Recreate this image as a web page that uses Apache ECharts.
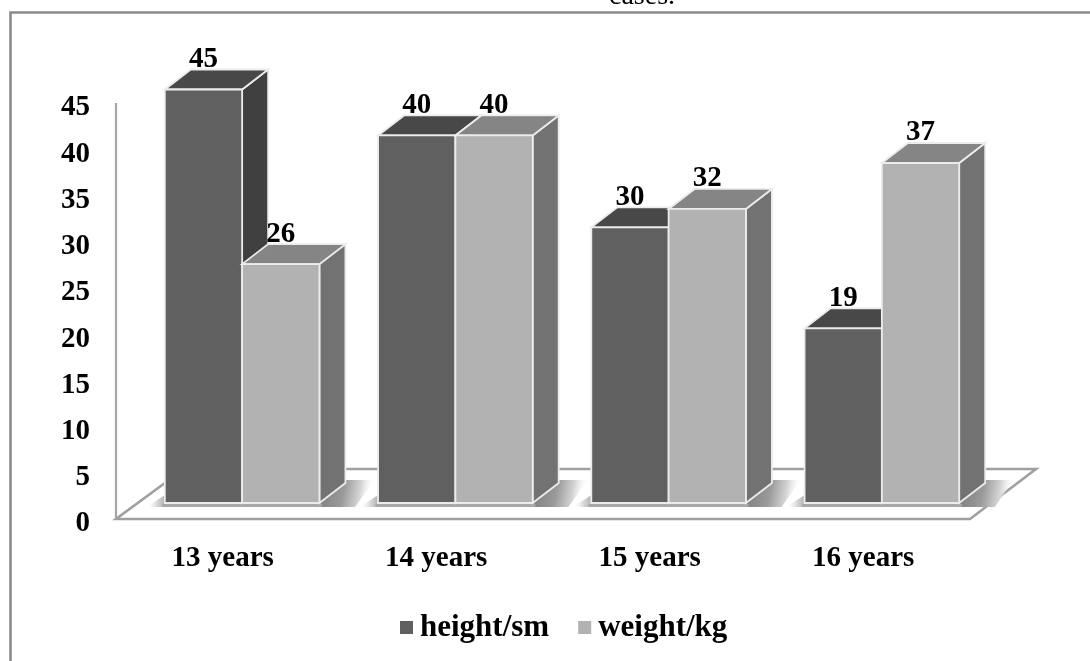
<!DOCTYPE html>
<html>
<head>
<meta charset="utf-8">
<style>html,body{margin:0;padding:0;background:#fff;overflow:hidden}#c{width:1090px;height:661px}</style>
<script src="https://cdn.jsdelivr.net/npm/echarts@6/dist/echarts.min.js"></script>
</head>
<body>
<div id="c"></div>
<script>
const categories = ['13 years', '14 years', '15 years', '16 years'];
const heightValues = [45, 40, 30, 19];
const weightValues = [26, 40, 32, 37];
const seriesNames = ['height/sm', 'weight/kg'];

const FONT = '"Liberation Serif", "Times New Roman", serif';
const DEPTH_X = 26, DEPTH_Y = 20;
const LABEL_DROP = 5;
const darkFaces = { front: '#606060', top: '#484848', side: '#404040' };
const lightFaces = { front: '#b2b2b2', top: '#858585', side: '#727272' };

function poly(points, fill, stroke, width) {
  return { type: 'polygon', shape: { points: points },
    style: { fill: fill, stroke: stroke || null, lineWidth: stroke ? (width || 1.8) : 0, lineJoin: 'miter' } };
}

function barRenderer(faces, seriesIndex) {
  return function (params, api) {
    const band = api.size([1, 0])[0];
    const w = band * 0.3625;
    const top = api.coord([api.value(0), api.value(1)]);
    const base = api.coord([api.value(0), 0]);
    const x0 = seriesIndex === 0 ? top[0] - w : top[0];
    const x1 = x0 + w, yt = top[1], yb = base[1];
    const dx = DEPTH_X, dy = DEPTH_Y, line = '#ececec';
    return { type: 'group', children: [
      poly([[x1, yb], [x1 + dx, yb - dy], [x1 + dx, yt - dy], [x1, yt]], faces.side, line),
      poly([[x0, yt], [x0 + dx, yt - dy], [x1 + dx, yt - dy], [x1, yt]], faces.top, line),
      poly([[x0, yb], [x1, yb], [x1, yt], [x0, yt]], faces.front, line),
      { type: 'text', z2: 50, style: {
          x: (x0 + x1) / 2, y: yt - dy - 10, text: String(api.value(1)),
          fill: '#000', font: 'bold 29px ' + FONT, align: 'center', verticalAlign: 'middle' } }
    ] };
  };
}

function floorRenderer(params) {
  const r = params.coordSys;
  const l = r.x, t = r.y - LABEL_DROP, b = r.y + r.height - LABEL_DROP, R = r.x + r.width;
  return { type: 'group', children: [
    poly([[l, b], [R, b], [R + 66, b - 50], [l + 68, b - 50]], '#fff', '#a0a0a0', 2.6),
    { type: 'line', shape: { x1: l, y1: t, x2: l, y2: b }, style: { stroke: '#a6a6a6', lineWidth: 2.2 } }
  ] };
}

function fade(x2, y2, stops) {
  return { type: 'linear', x: 0, y: 0, x2: x2, y2: y2,
    colorStops: stops.map(s => ({ offset: s[0], color: s[1] })) };
}

function shadowRenderer(params, api) {
  const c = api.coord([api.value(0), 0]);
  const x = c[0], y = c[1];
  return { type: 'group', children: [
    { type: 'polygon', shape: { points: [[x + 78, y], [x + 104, y - 23], [x + 132, y - 23], [x + 113, y + 4], [x + 78, y + 4]] },
      style: { fill: fade(1, 0.35, [[0, '#7e7e7e'], [0.45, '#9a9a9a'], [0.75, '#d4d4d4'], [1, 'rgba(255,255,255,0)']]) } },
    { type: 'polygon', shape: { points: [[x - 96, y + 4], [x - 74, y - 10], [x - 74, y + 4]] },
      style: { fill: fade(1, 0, [[0, 'rgba(255,255,255,0)'], [0.5, '#d8d8d8'], [1, '#a0a0a0']]) } },
    { type: 'rect', shape: { x: x - 80, y: y + 1, width: 160, height: 3 }, style: { fill: '#a8a8a8' } }
  ] };
}

const chart = echarts.init(document.getElementById('c'), null, { renderer: 'canvas' });
const labelStyle = { color: '#000', fontFamily: FONT, fontWeight: 'bold', fontSize: 29 };
chart.setOption({
  animation: false,
  backgroundColor: '#fff',
  title: { text: 'cases.', left: 604, top: -22,
    textStyle: { fontFamily: FONT, fontWeight: 'normal', fontSize: 28, color: '#000' } },
  legend: {
    data: seriesNames, left: 395, top: 607, icon: 'rect', itemWidth: 13, itemHeight: 13, itemGap: 29,
    selectedMode: false,
    textStyle: { color: '#000', fontFamily: FONT, fontWeight: 'bold', fontSize: 31, padding: [0, 0, 0, 2] }
  },
  graphic: [{ type: 'rect', silent: true, shape: { x: 10.5, y: 12.5, width: 1300, height: 900 },
    style: { fill: 'none', stroke: '#8c8c8c', lineWidth: 2.6 } }],
  grid: [
    { left: 116, top: 103 + LABEL_DROP, width: 854, height: 416 },
    { left: 135.5, top: 89.5, width: 853, height: 413.5 }
  ],
  xAxis: [
    { type: 'category', gridIndex: 0, data: categories,
      axisLine: { show: false }, axisTick: { show: false },
      axisLabel: Object.assign({ margin: 20 }, labelStyle) },
    { type: 'category', gridIndex: 1, data: categories, show: false }
  ],
  yAxis: [
    { type: 'value', gridIndex: 0, min: 0, max: 45, interval: 5,
      axisLine: { show: false },
      axisTick: { show: false }, splitLine: { show: false },
      axisLabel: Object.assign({ margin: 26 }, labelStyle) },
    { type: 'value', gridIndex: 1, min: 0, max: 45, interval: 5, show: false, splitLine: { show: false } }
  ],
  series: [
    { type: 'custom', name: 'floor', xAxisIndex: 0, yAxisIndex: 0, clip: false, silent: true, z: 1,
      data: [[0, 0]], renderItem: floorRenderer },
    { type: 'custom', name: 'shadow', xAxisIndex: 1, yAxisIndex: 1, clip: false, silent: true, z: 2,
      data: categories.map((c, i) => [i, 0]), renderItem: shadowRenderer },
    { type: 'custom', name: seriesNames[0], xAxisIndex: 1, yAxisIndex: 1, clip: false, z: 3,
      itemStyle: { color: darkFaces.front },
      data: heightValues.map((v, i) => [i, v]), renderItem: barRenderer(darkFaces, 0) },
    { type: 'custom', name: seriesNames[1], xAxisIndex: 1, yAxisIndex: 1, clip: false, z: 4,
      itemStyle: { color: lightFaces.front },
      data: weightValues.map((v, i) => [i, v]), renderItem: barRenderer(lightFaces, 1) }
  ]
});
</script>
</body>
</html>
